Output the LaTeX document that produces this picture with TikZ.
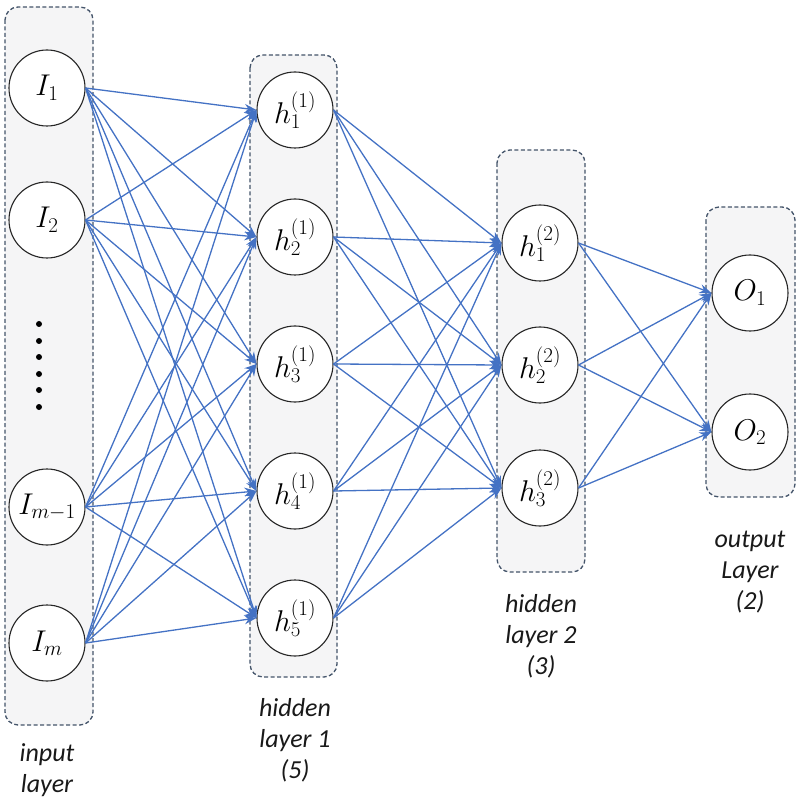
\RequirePackage{fix-cm}
\documentclass[tikz,border=0pt]{standalone}
\usepackage{fontspec}
\setmainfont{Carlito}
\usetikzlibrary{arrows.meta}
\definecolor{edgeblue}{HTML}{4472C4}
\definecolor{boxline}{HTML}{44546A}
\definecolor{boxfill}{HTML}{F5F5F6}
\tikzset{
  neuron/.style={circle, draw=black!85, line width=1.1pt, minimum size=76pt, inner sep=0pt,
    fill=white, font=\fontsize{30}{30}\selectfont},
  layerbox/.style={draw=boxline, dash pattern=on 4pt off 2.5pt, line width=1.3pt,
    rounded corners=13pt, fill=boxfill},
  conn/.style={draw=edgeblue, line width=1.3pt, -{Stealth[length=12pt,width=9pt]}},
  lbl/.style={font=\fontsize{26}{31}\selectfont\itshape, align=center, text=black!90},
  dotmark/.style={circle, fill=black, inner sep=0pt, minimum size=6pt}
}
\begin{document}
\begin{tikzpicture}[x=1pt,y=-1pt]
\useasboundingbox (0,0) rectangle (800,799);
% layer boxes
\draw[layerbox] (5,7) rectangle (93,725);
\draw[layerbox] (250,55) rectangle (337,677);
\draw[layerbox] (497,150) rectangle (585,572);
\draw[layerbox] (706,207) rectangle (795,497);
% neurons
\node[neuron] (i1) at (47,88) {$I_1$};
\node[neuron] (i2) at (47,220) {$I_2$};
\node[neuron] (im1) at (47,507) {$I_{m-1}$};
\node[neuron] (im) at (47,643) {$I_m$};
\foreach \k/\y in {1/110,2/237,3/364,4/491,5/618}
  \node[neuron] (a\k) at (295,\y) {$h_{\k}^{(1)}$};
\foreach \k/\y in {1/243,2/365,3/488}
  \node[neuron] (b\k) at (540,\y) {$h_{\k}^{(2)}$};
\node[neuron] (o1) at (750,293) {$O_1$};
\node[neuron] (o2) at (750,432) {$O_2$};
% dots
\foreach \j/\y in {1/324,2/341,3/357,4/374,5/390,6/407}
  \node[dotmark] (d\j) at (39,\y) {};
% connections
\foreach \s in {i1,i2,im1,im}
  \foreach \t in {a1,a2,a3,a4,a5}
    \draw[conn] (\s.east) -- (\t.west);
\foreach \s in {a1,a2,a3,a4,a5}
  \foreach \t in {b1,b2,b3}
    \draw[conn] (\s.east) -- (\t.west);
\foreach \s in {b1,b2,b3}
  \foreach \t in {o1,o2}
    \draw[conn] (\s.east) -- (\t.west);
% labels
\node[lbl] (lin) at (47,770) {input\\layer};
\node[lbl] (lh1) at (295,740) {hidden\\layer 1\\(5)};
\node[lbl] (lh2) at (541,636) {hidden\\layer 2\\(3)};
\node[lbl] (lout) at (750,572) {output\\Layer\\(2)};
\end{tikzpicture}
\end{document}
